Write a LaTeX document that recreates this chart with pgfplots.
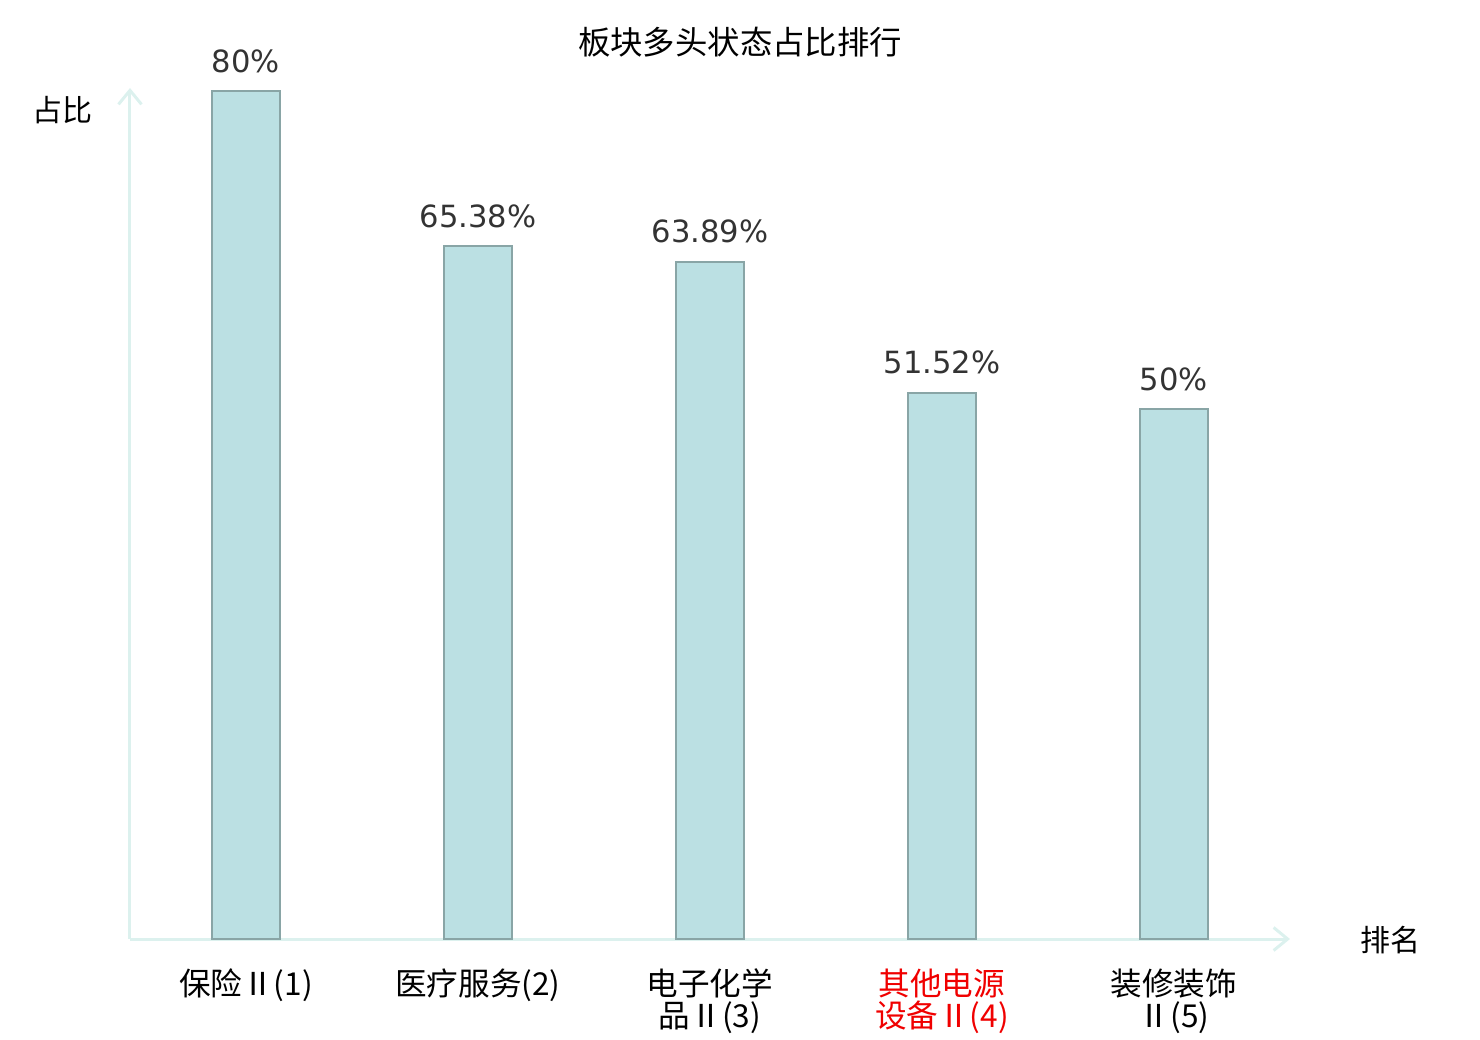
\documentclass[border=0pt]{standalone}
\usepackage{fontspec}
\setmainfont{Noto Sans CJK SC}
\newfontfamily\dejavu{DejaVu Sans}
\usepackage{pgfplots}
\pgfplotsset{compat=1.18}
\usetikzlibrary{arrows.meta}
\definecolor{barfill}{HTML}{BBE0E3}
\definecolor{baredge}{HTML}{89A5A6}
\definecolor{axiscol}{HTML}{DCF1EE}
\definecolor{valcol}{HTML}{333333}
\definecolor{hl}{HTML}{F00000}
\begin{document}
\begin{tikzpicture}
\path[use as bounding box] (-65pt,-50.5pt) rectangle (675pt,469.5pt);
\begin{axis}[
  scale only axis,
  width=580pt, height=425.5pt,
  xmin=-0.5, xmax=4.5, ymin=0, ymax=80.3,
  axis lines=left,
  axis line style={draw=axiscol, line width=1.5pt, -{Straight Barb[length=7pt,width=11.5pt,line width=1.5pt]}},
  xtick=data,
  xticklabels={{保险Ⅱ(1)},{医疗服务(2)},{电子化学\\品Ⅱ(3)},{\color{hl}其他电源\\\color{hl}设备Ⅱ(4)},{装修装饰\\Ⅱ(5)}},
  xticklabel style={align=center, anchor=north, yshift=-11.5pt, font=\fontsize{15.8}{16}\selectfont},
  ytick=\empty,
  major tick length=0pt,
  clip=false,
]
\addplot[ybar, bar width=34pt, fill=barfill, draw=baredge, line width=0.9pt,
  nodes near coords={\pgfplotspointmeta\%},
  point meta=explicit symbolic,
  nodes near coords style={anchor=base, yshift=9.5pt, inner sep=0pt, text=valcol, font=\dejavu\fontsize{15.3}{16}\selectfont},
] table[x=x, y=y, meta=lab] {
x y lab
0 80 80
1 65.38 65.38
2 63.89 63.89
3 51.52 51.52
4 50 50
};
\end{axis}
\node[font=\fontsize{16.2}{18}\selectfont] at (305pt,448.5pt) {板块多头状态占比排行};
\node[font=\fontsize{15}{16}\selectfont] at (-33.5pt,414.5pt) {占比};
\node[font=\fontsize{15}{16}\selectfont] at (630pt,-0.5pt) {排名};
\end{tikzpicture}
\end{document}
